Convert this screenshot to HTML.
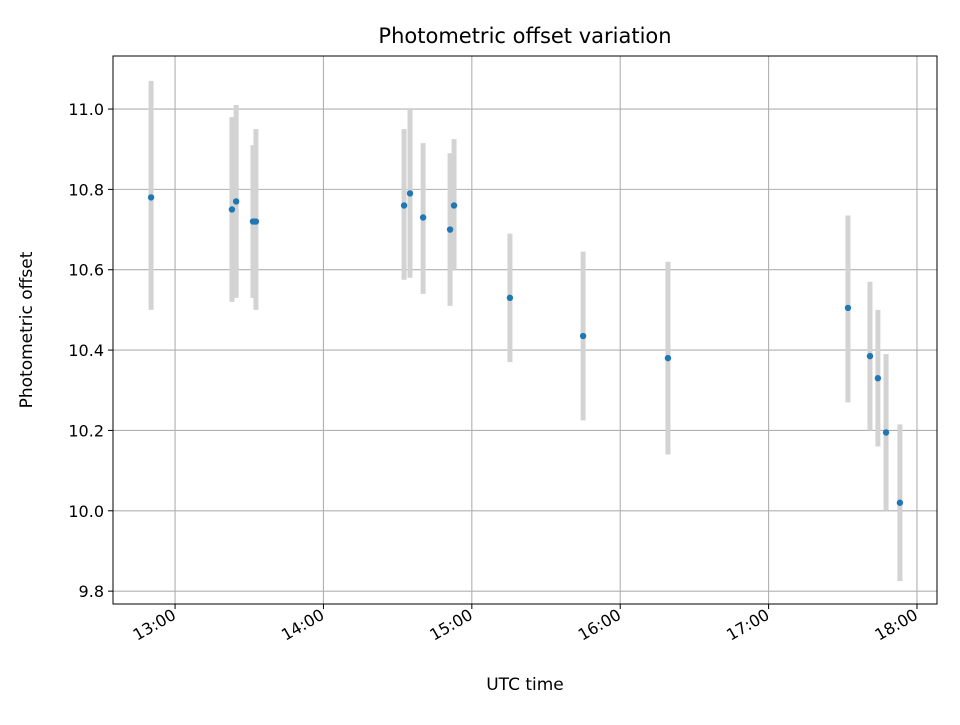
<!DOCTYPE html>
<html><head><meta charset="utf-8"><style>
body{margin:0;background:#fff;}
svg text{font-family:"DejaVu Sans","Liberation Sans",sans-serif;fill:#000;}
</style></head><body>
<svg id="chart" width="960" height="720" xmlns="http://www.w3.org/2000/svg">
<rect width="960" height="720" fill="#fff"/>
<g id="grid"></g><g id="bars"></g><g id="pts"></g><g id="axes"></g>
<text x="525" y="43" font-size="21" text-anchor="middle">Photometric offset variation</text>
<text x="525" y="690" font-size="17" text-anchor="middle">UTC time</text>
<text transform="translate(32,330) rotate(-90)" font-size="17" text-anchor="middle">Photometric offset</text>
</svg>
<script>
// minutes after 13:00 UTC
const times=[-9.7,23,24.7,31.5,32.7,92.6,95,100.3,111.2,112.8,135.4,165,199.3,272.1,281,284.2,287.5,293.1];
const values=[10.78,10.75,10.77,10.72,10.72,10.76,10.79,10.73,10.70,10.76,10.53,10.435,10.38,10.505,10.385,10.33,10.195,10.02];
const uppers=[11.07,10.98,11.01,10.91,10.95,10.95,11.0,10.915,10.89,10.925,10.69,10.645,10.62,10.735,10.57,10.50,10.39,10.215];
const lowers=[10.50,10.52,10.53,10.53,10.50,10.575,10.58,10.54,10.51,10.60,10.37,10.225,10.14,10.27,10.20,10.16,10.0,9.825];
const xTicks=[0,60,120,180,240,300];
const xLabels=["13:00","14:00","15:00","16:00","17:00","18:00"];
const yTicks=[9.8,10.0,10.2,10.4,10.6,10.8,11.0];
const yLabels=["9.8","10.0","10.2","10.4","10.6","10.8","11.0"];
const L=113,R=937,T=56,B=604,xmin=-25.1,xmax=308.1,ymin=9.768,ymax=11.132;
const X=v=>L+(v-xmin)/(xmax-xmin)*(R-L);
const Y=v=>B-(v-ymin)/(ymax-ymin)*(B-T);
const NS="http://www.w3.org/2000/svg";
function mk(tag,attrs,parent){const e=document.createElementNS(NS,tag);for(const k in attrs)e.setAttribute(k,attrs[k]);parent.appendChild(e);return e;}
const grid=document.getElementById('grid'),bars=document.getElementById('bars'),pts=document.getElementById('pts'),axes=document.getElementById('axes');
xTicks.forEach((t,i)=>{const x=X(t);
 const g=mk('line',{x1:x,x2:x,y1:T,y2:B,stroke:'#b0b0b0','stroke-width':1.1},grid);
 
 
 const tk=mk('line',{x1:x,x2:x,y1:B,y2:B+5,stroke:'#000','stroke-width':1},axes);
 
 
 const ax=x+2,ay=B+14;
 const tx=mk('text',{x:ax,y:ay,'font-size':16,'text-anchor':'end',transform:`rotate(-30 ${ax} ${ay})`},axes);
 tx.textContent=xLabels[i];
 
 
});
yTicks.forEach((t,i)=>{const y=Y(t);
 const g=mk('line',{x1:L,x2:R,y1:y,y2:y,stroke:'#b0b0b0','stroke-width':1.1},grid);
 
 
 const tk=mk('line',{x1:L-5,x2:L,y1:y,y2:y,stroke:'#000','stroke-width':1},axes);
 
 
 const tx=mk('text',{x:L-9,y:y+6,'font-size':16,'text-anchor':'end'},axes);
 tx.textContent=yLabels[i];
 
 
});
const fr=mk('rect',{x:L,y:T,width:R-L,height:B-T,fill:'none',stroke:'#000','stroke-width':1},axes);


times.forEach((t,i)=>{const x=X(t);
 const b=mk('line',{x1:x,x2:x,y1:Y(uppers[i]),y2:Y(lowers[i]),stroke:'#d3d3d3','stroke-width':5},bars);
 
 
 const c=mk('circle',{cx:x,cy:Y(values[i]),r:3.2,fill:'#1f77b4'},pts);
 
 
});
</script>
</body></html>
